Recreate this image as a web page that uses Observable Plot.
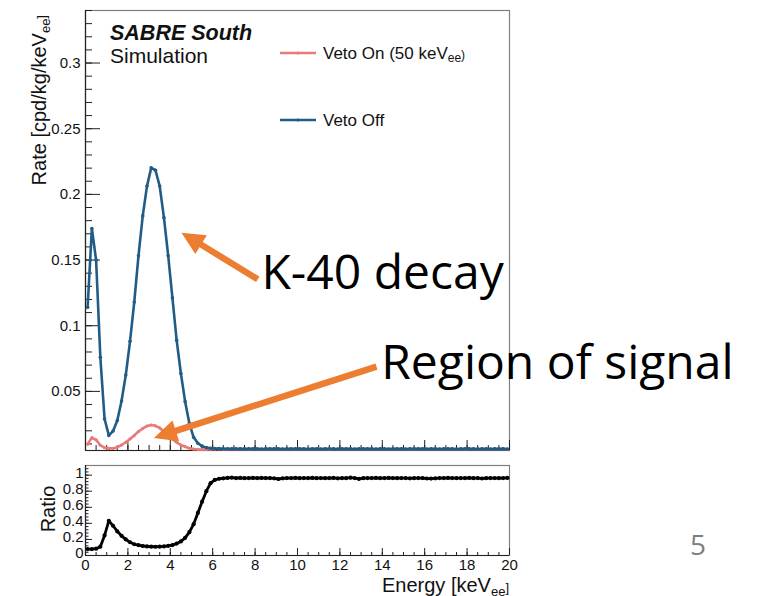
<!DOCTYPE html>
<html><head><meta charset="utf-8">
<script src="https://cdn.jsdelivr.net/npm/d3@7"></script>
<script src="https://cdn.jsdelivr.net/npm/@observablehq/plot@0.6"></script>
<style>
body{margin:0;background:#fff;}
#wrap{position:relative;width:764px;height:596px;overflow:hidden;background:#fff;}
#wrap svg{position:absolute;left:0;overflow:visible;}
</style></head><body><div id="wrap"></div>
<script>
// ---- data ----
const energy = [0.1,0.3,0.5,0.7,0.9,1.1,1.3,1.5,1.7,1.9,2.1,2.3,2.5,2.7,2.9,3.1,3.3,3.5,3.7,3.9,
4.1,4.3,4.5,4.7,4.9,5.1,5.3,5.5,5.7,5.9,6.1,6.3,6.5,6.7,6.9,7.1,7.3,7.5,7.7,7.9,
8.1,8.3,8.5,8.7,8.9,9.1,9.3,9.5,9.7,9.9,10.1,10.3,10.5,10.7,10.9,11.1,11.3,11.5,11.7,11.9,
12.1,12.3,12.5,12.7,12.9,13.1,13.3,13.5,13.7,13.9,14.1,14.3,14.5,14.7,14.9,15.1,15.3,15.5,15.7,15.9,
16.1,16.3,16.5,16.7,16.9,17.1,17.3,17.5,17.7,17.9,18.1,18.3,18.5,18.7,18.9,19.1,19.3,19.5,19.7,19.9];

const vetoOff = [0.114,0.174,0.150,0.076,0.029,0.0165,0.0198,0.0278,0.0427,0.0624,
0.0881,0.118,0.1533,0.1836,0.2063,0.2202,0.2184,0.2063,0.1823,0.1533,
0.1212,0.0889,0.0636,0.0422,0.0255,0.0150,0.0105,0.0083,0.0072,0.0067,0.0065,
0.0064,0.0063,0.0063,0.0062,0.0063,0.0062,0.0062,0.0063,0.0062,0.0062,
0.0061,0.0062,0.0063,0.0062,0.0062,0.0061,0.0062,0.0062,0.0063,0.0062,
0.0062,0.0061,0.0062,0.0062,0.0061,0.0062,0.0063,0.0062,0.0061,0.0062,
0.0062,0.0062,0.0061,0.0062,0.0062,0.0063,0.0062,0.0061,0.0062,0.0062,
0.0061,0.0062,0.0062,0.0062,0.0061,0.0062,0.0063,0.0062,0.0062,0.0061,
0.0062,0.0062,0.0061,0.0062,0.0062,0.0062,0.0061,0.0062,0.0063,0.0062,
0.0062,0.0061,0.0062,0.0062,0.0061,0.0062,0.0062,0.0062,0.0061];

const vetoOn = [0.0098,0.0148,0.0131,0.0090,0.0071,0.0066,0.0066,0.0075,0.0092,0.0113,
0.0138,0.0165,0.0195,0.0218,0.0236,0.0244,0.0238,0.0222,0.0195,0.0165,
0.0137,0.0112,0.0092,0.0079,0.0067,0.0061,0.0058,0.0057,0.0058,0.0060,0.0061,
0.0061,0.0060,0.0060,0.0060,0.0060,0.0059,0.0060,0.0060,0.0060,0.0059,
0.0059,0.0060,0.0060,0.0060,0.0059,0.0059,0.0060,0.0060,0.0060,0.0060,
0.0059,0.0059,0.0060,0.0060,0.0059,0.0060,0.0060,0.0060,0.0059,0.0059,
0.0060,0.0060,0.0059,0.0060,0.0059,0.0060,0.0060,0.0059,0.0060,0.0060,
0.0059,0.0060,0.0060,0.0060,0.0059,0.0059,0.0060,0.0060,0.0060,0.0059,
0.0060,0.0060,0.0059,0.0060,0.0060,0.0060,0.0059,0.0060,0.0060,0.0060,
0.0060,0.0059,0.0060,0.0060,0.0059,0.0060,0.0060,0.0060,0.0059];

const ratio = [0.080,0.080,0.085,0.110,0.250,0.430,0.370,0.300,0.245,0.200,
0.165,0.140,0.128,0.118,0.113,0.110,0.109,0.110,0.113,0.120,
0.130,0.148,0.175,0.220,0.290,0.390,0.530,0.670,0.800,0.900,
0.940,0.955,0.960,0.965,0.970,
0.963,0.966,0.962,0.964,0.965,0.963,0.966,0.964,0.963,0.961,
0.952,0.961,0.964,0.963,0.965,0.962,0.964,0.963,0.966,0.962,
0.964,0.962,0.963,0.965,0.961,0.963,0.962,0.968,0.963,0.953,
0.962,0.964,0.963,0.965,0.962,0.964,0.966,0.963,0.962,0.964,
0.963,0.961,0.962,0.964,0.963,0.958,0.957,0.961,0.963,0.964,
0.965,0.963,0.962,0.964,0.963,0.965,0.962,0.963,0.958,0.962,
0.963,0.964,0.962,0.963,0.966];

const rateTicks = [0.05,0.1,0.15,0.2,0.25,0.3];
const ratioTicks = [0,0.2,0.4,0.6,0.8,1];
const energyTicks = [0,2,4,6,8,10,12,14,16,18,20];
const seriesNames = ["Veto On (50 keV", "Veto Off"];

// annotations (data coordinates: energy, rate)
const annotLabels = [
  {x: 8.3, y: 0.1280, label: "K-40 decay"},
  {x: 13.95, y: 0.0596, label: "Region of signal"}
];
const annotArrows = [
  {x1: 8.15, y1: 0.1350, x2: 4.55, y2: 0.1705},
  {x1: 13.75, y1: 0.0685, x2: 3.25, y2: 0.0142}
];

// ---- styles ----
const BLUE = "#215c86", RED = "#ea7a7a", ORANGE = "#ed7d31";
const ROOTFONT = "'Liberation Sans', Arial, Helvetica, sans-serif";
const rows = energy.map((e, i) => ({e, off: vetoOff[i], on: vetoOn[i], r: ratio[i]}));

const FW = 424; // frame width in px
const topH = 458, topMT = 10, topMB = 8, topFH = topH - topMT - topMB;
const botH = 138, botMT = 7, botMB = 41, botFH = botH - botMT - botMB;

const yMinor = d3.range(0.01, 0.341, 0.01).map(v => +v.toFixed(3));
const xMajor = energyTicks;
const xMinor = d3.range(0.5, 20, 0.5);
const rMinor = d3.range(0.04, 1.12, 0.04).map(v => +v.toFixed(3));

const topPlot = Plot.plot({
  width: 764, height: topH,
  marginLeft: 85, marginRight: 764 - 85 - FW, marginTop: topMT, marginBottom: topMB,
  x: {domain: [0, 20], axis: null},
  y: {domain: [0.005, 0.34], axis: null},
  style: {fontFamily: ROOTFONT, fontSize: "15px", color: "black", overflow: "visible"},
  marks: [
    Plot.frame({stroke: "#808080", strokeWidth: 1.2}),
    Plot.tickY(yMinor, {y: d => d, insetRight: FW - 7, stroke: "#222"}),
    Plot.tickY(rateTicks, {y: d => d, insetRight: FW - 15, stroke: "#222"}),
    Plot.tickX(xMinor, {x: d => d, insetTop: topFH - 5, stroke: "#222"}),
    Plot.tickX(xMajor, {x: d => d, insetTop: topFH - 10, stroke: "#222"}),
    Plot.ruleX([0], {stroke: "#222", strokeWidth: 1.2}),
    Plot.ruleY([0.005], {stroke: "#222", strokeWidth: 1.2}),
    Plot.axisY(rateTicks, {tickSize: 0, tickPadding: 5, tickFormat: d => String(d), fontSize: 15, fill: "#111", label: null}),
    Plot.line(rows, {x: "e", y: "on", stroke: RED, strokeWidth: 2.6}),
    Plot.dot(rows, {x: "e", y: "on", r: 1.6, fill: RED, stroke: "none"}),
    Plot.line(rows, {x: "e", y: "off", stroke: BLUE, strokeWidth: 2.6}),
    Plot.dot(rows, {x: "e", y: "off", r: 1.8, fill: BLUE, stroke: "none"}),
    Plot.text(annotLabels, {x: "x", y: "y", text: "label", textAnchor: "start", lineAnchor: "bottom",
      fontSize: 48, fontFamily: "'Open Sans', 'Noto Sans', sans-serif", fill: "black"})
  ]
});
topPlot.style.top = "0px";

const botPlot = Plot.plot({
  width: 764, height: botH,
  marginLeft: 85, marginRight: 764 - 85 - FW, marginTop: botMT, marginBottom: botMB,
  x: {domain: [0, 20], axis: null},
  y: {domain: [0, 1.12], axis: null},
  style: {fontFamily: ROOTFONT, fontSize: "15px", color: "black", overflow: "visible"},
  marks: [
    Plot.frame({stroke: "#808080", strokeWidth: 1.2}),
    Plot.tickY(rMinor, {y: d => d, insetRight: FW - 3.5, stroke: "#222"}),
    Plot.tickY(ratioTicks, {y: d => d, insetRight: FW - 7, stroke: "#222"}),
    Plot.tickX(xMinor, {x: d => d, insetTop: botFH - 3, stroke: "#222"}),
    Plot.tickX(xMajor, {x: d => d, insetTop: botFH - 7, stroke: "#222"}),
    Plot.ruleX([0], {stroke: "#222", strokeWidth: 1.2}),
    Plot.ruleY([0], {stroke: "#222", strokeWidth: 1.2}),
    Plot.axisY(ratioTicks, {tickSize: 0, tickPadding: 2, tickFormat: d => String(d), fontSize: 15, fill: "#111", label: null, dy: -2}),
    Plot.axisX(energyTicks, {tickSize: 0, tickPadding: 4, tickFormat: d => String(d), fontSize: 15, fill: "#111", label: null}),
    Plot.line(rows, {x: "e", y: "r", stroke: "black", strokeWidth: 2.8}),
    Plot.dot(rows, {x: "e", y: "r", r: 2.1, fill: "black", stroke: "none"})
  ]
});
botPlot.style.top = topH + "px";

const wrap = document.getElementById("wrap");
wrap.appendChild(topPlot);
wrap.appendChild(botPlot);

// helper for text with subscript
function addText(svg, attrs, parts, subSize) {
  const t = svg.append("text").attr("text-anchor", "start");
  for (const [k, v] of Object.entries(attrs)) t.attr(k, v);
  parts.forEach(p => {
    if (typeof p === "string") t.append("tspan").text(p);
    else t.append("tspan").attr("font-size", subSize).attr("dy", p.dy).text(p.t);
  });
  return t;
}

const ts = d3.select(topPlot);
// arrows via the plot's own scales
const sx = topPlot.scale("x"), sy = topPlot.scale("y");
annotArrows.forEach(a => {
  const T = [sx.apply(a.x1), sy.apply(a.y1)], P = [sx.apply(a.x2), sy.apply(a.y2)];
  const dx = P[0] - T[0], dy = P[1] - T[1], L = Math.hypot(dx, dy);
  const u = [dx / L, dy / L], n = [-u[1], u[0]];
  const hl = 23, hw = 11, sw = 3.2;
  const B = [P[0] - u[0] * hl, P[1] - u[1] * hl];
  const pts = [
    [T[0] + n[0] * sw, T[1] + n[1] * sw], [B[0] + n[0] * sw, B[1] + n[1] * sw],
    [B[0] + n[0] * hw, B[1] + n[1] * hw], P,
    [B[0] - n[0] * hw, B[1] - n[1] * hw], [B[0] - n[0] * sw, B[1] - n[1] * sw],
    [T[0] - n[0] * sw, T[1] - n[1] * sw]
  ];
  ts.append("path").attr("d", "M" + pts.map(p => p.join(",")).join("L") + "Z").attr("fill", ORANGE);
});

// title
addText(ts, {x: 110, y: 40, "font-family": ROOTFONT, "font-size": 21.5, "font-weight": "bold", "font-style": "italic", fill: "#111"}, ["SABRE South"]);
addText(ts, {x: 110, y: 63, "font-family": ROOTFONT, "font-size": 21, fill: "#111"}, ["Simulation"]);

// legend
[[RED, 53, [seriesNames[0], {t: "ee", dy: 3}, {t: ")", dy: -3}]], [BLUE, 120, [seriesNames[1]]]].forEach(([c, y, parts]) => {
  ts.append("line").attr("x1", 280).attr("x2", 316).attr("y1", y).attr("y2", y).attr("stroke", c).attr("stroke-width", 2.4);
  ts.append("circle").attr("cx", 298).attr("cy", y).attr("r", 1.6).attr("fill", c);
  addText(ts, {x: 323, y: y + 6, "font-family": ROOTFONT, "font-size": 17, fill: "#111"}, parts, 12);
});

// y label
addText(ts, {transform: "translate(46,15) rotate(-90)", "text-anchor": "end", "font-family": ROOTFONT, "font-size": 20, fill: "#111"},
  ["Rate [cpd/kg/keV", {t: "ee", dy: 4}, {t: "]", dy: -4}], 13);

const bs = d3.select(botPlot);
addText(bs, {transform: "translate(55,51) rotate(-90)", "text-anchor": "middle", "font-family": ROOTFONT, "font-size": 20, fill: "#111"}, ["Ratio"], 13);
addText(bs, {x: 509, y: 134, "text-anchor": "end", "font-family": ROOTFONT, "font-size": 20, fill: "#111"},
  ["Energy [keV", {t: "ee", dy: 4}, {t: "]", dy: -4}], 13);
addText(bs, {x: 698, y: 97, "text-anchor": "middle", "font-family": "'Open Sans', sans-serif", "font-size": 28, fill: "#7f7f7f"}, ["5"]);
</script></body></html>
